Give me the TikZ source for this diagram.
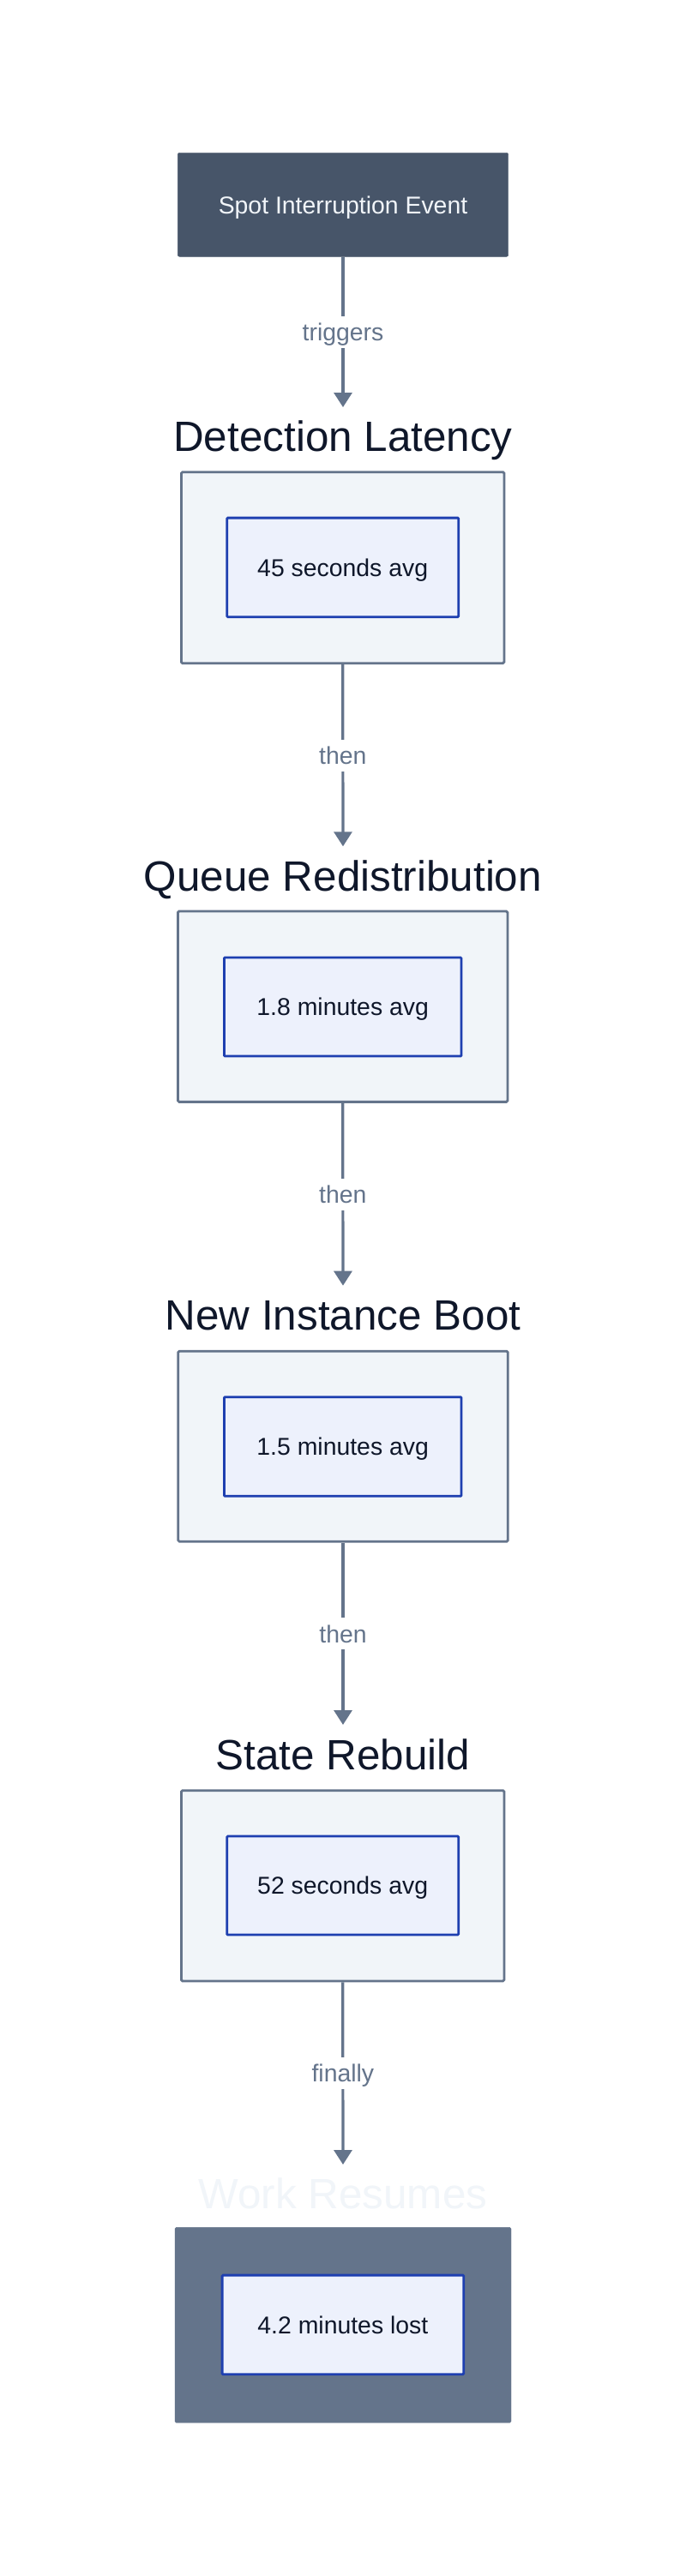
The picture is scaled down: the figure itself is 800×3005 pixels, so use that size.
\documentclass[tikz,border=0pt]{standalone}
\usepackage{fontspec}
\setmainfont{Liberation Sans}
\usetikzlibrary{arrows.meta}
\definecolor{topfill}{HTML}{475569}
\definecolor{toptext}{HTML}{F1F5F9}
\definecolor{clfill}{HTML}{F1F5F9}
\definecolor{cldraw}{HTML}{64748B}
\definecolor{infill}{HTML}{EDF1FC}
\definecolor{indraw}{HTML}{1E3FB0}
\definecolor{darktext}{HTML}{0F172A}
\definecolor{edgecol}{HTML}{64748B}
\definecolor{endfill}{HTML}{64748B}
\definecolor{ghost}{HTML}{F1F5F9}
\begin{document}
\begin{tikzpicture}[x=1pt,y=-1pt,
  small/.style={font=\fontsize{28.4}{34}\selectfont, text height=20.4pt, text depth=0pt, align=center},
  big/.style={font=\fontsize{49.4}{58}\selectfont, text height=35.6pt, text depth=0pt, align=center},
  topbox/.style={fill=topfill, draw=topfill, rounded corners=2pt, text=toptext, small, inner sep=0pt},
  cluster/.style={fill=clfill, draw=cldraw, line width=2.8pt, rounded corners=1.5pt, inner sep=0pt},
  endcluster/.style={fill=endfill, draw=endfill, rounded corners=1.5pt, inner sep=0pt},
  inbox/.style={fill=infill, draw=indraw, line width=2.8pt, rounded corners=1pt, text=darktext, small, inner sep=0pt},
  ctitle/.style={text=darktext, big, inner sep=0pt},
  ghosttitle/.style={ctitle, text=ghost},
  flow/.style={draw=edgecol, line width=3.2pt, -{Triangle[width=21pt,length=17pt]}},
  elabel/.style={fill=white, text=edgecol, small, inner xsep=2pt, inner ysep=8.2pt}
]
\useasboundingbox (0,0) rectangle (800,3005);
\fill[white] (0,0) rectangle (800,3005);

% top event
\node[topbox, minimum width=385.4pt, minimum height=121pt] (spot) at (400,238.8) {Spot Interruption Event};

% cluster 1
\node[ctitle] (t1) at (400,508.9) {Detection Latency};
\node[cluster, minimum width=376.6pt, minimum height=223pt] (c1) at (399.7,662.2) {};
\node[inbox, minimum width=270pt, minimum height=115.6pt] (n1) at (399.7,661.9) {45 seconds avg};

% cluster 2
\node[ctitle] (t2) at (400,1021.5) {Queue Redistribution};
\node[cluster, minimum width=384.6pt, minimum height=222.3pt] (c2) at (399.7,1174.2) {};
\node[inbox, minimum width=276.6pt, minimum height=115pt] (n2) at (399.7,1174.5) {1.8 minutes avg};

% cluster 3
\node[ctitle] (t3) at (400,1533.9) {New Instance Boot};
\node[cluster, minimum width=384.6pt, minimum height=222pt] (c3) at (400,1687.2) {};
\node[inbox, minimum width=276.6pt, minimum height=115.6pt] (n3) at (399.7,1687.5) {1.5 minutes avg};

% cluster 4
\node[ctitle] (t4) at (400,2046.2) {State Rebuild};
\node[cluster, minimum width=376.6pt, minimum height=222.3pt] (c4) at (399.7,2199.8) {};
\node[inbox, minimum width=270pt, minimum height=115pt] (n4) at (399.7,2199.5) {52 seconds avg};

% final cluster
\node[ghosttitle] (t5) at (400,2558.9) {Work Resumes};
\node[endcluster, minimum width=392pt, minimum height=227.7pt] (c5) at (400,2712.2) {};
\node[inbox, minimum width=281.6pt, minimum height=115.6pt] (n5) at (399.9,2711.9) {4.2 minutes lost};

% arrow tips
\coordinate (a1) at (400,475);
\coordinate (a2) at (400,987.3);
\coordinate (a3) at (400,1499.7);
\coordinate (a4) at (400,2012);
\coordinate (a5) at (400,2525);

\draw[flow] (spot.south) -- node[elabel] (l1) {triggers} (a1);
\draw[flow] (c1.south) -- node[elabel] (l2) {then} (a2);
\draw[flow] (c2.south) -- node[elabel] (l3) {then} (a3);
\draw[flow] (c3.south) -- node[elabel] (l4) {then} (a4);
\draw[flow] (c4.south) -- node[elabel] (l5) {finally} (a5);
\end{tikzpicture}
\end{document}
